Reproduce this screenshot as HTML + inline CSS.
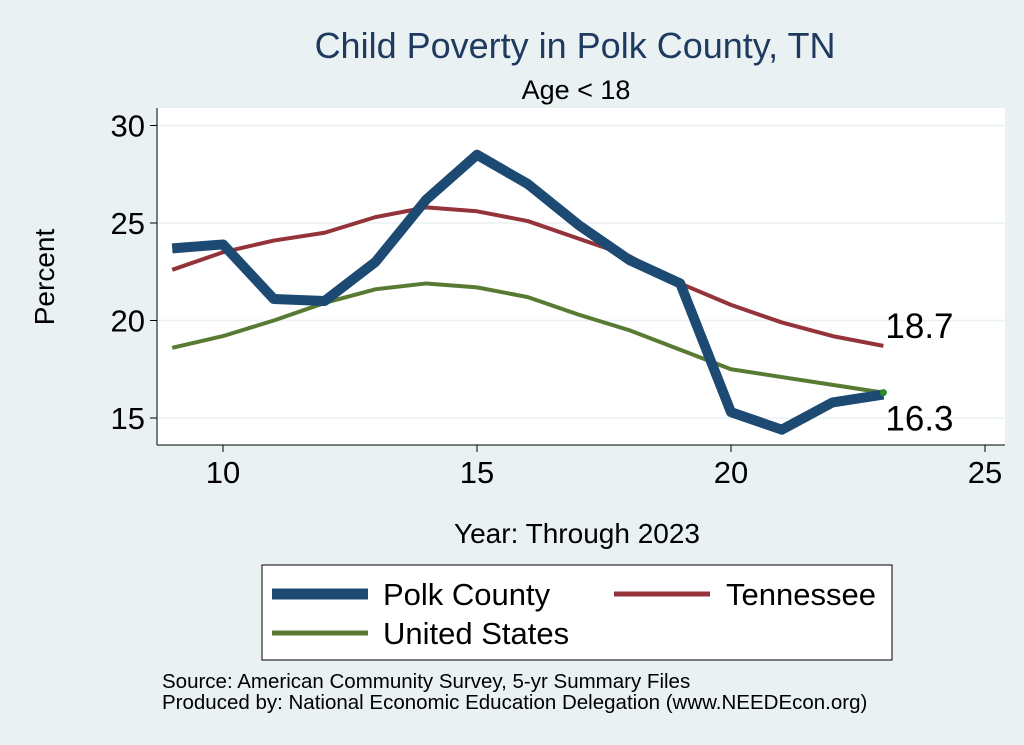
<!DOCTYPE html>
<html><head><meta charset="utf-8"><style>
body{margin:0;background:#eaf1f3;}
svg{display:block;font-family:"Liberation Sans",Arial,sans-serif;}
</style></head><body>
<svg width="1024" height="745" viewBox="0 0 1024 745">
<rect x="0" y="0" width="1024" height="745" fill="#eaf1f3"/>
<text x="575" y="58" text-anchor="middle" font-size="36" fill="#1e3a5f">Child Poverty in Polk County, TN</text>
<text x="576" y="99" text-anchor="middle" font-size="27" fill="#000">Age &lt; 18</text>
<rect x="157" y="108" width="848" height="337" fill="#fff"/>
<g id="grid"></g>
<line x1="157" y1="108" x2="157" y2="445" stroke="#000" stroke-width="1"/>
<line x1="157" y1="445" x2="1005" y2="445" stroke="#000" stroke-width="1"/>
<g id="yticks"></g>
<g id="xticks"></g>
<text transform="translate(54,277) rotate(-90)" text-anchor="middle" font-size="28">Percent</text>
<text x="577" y="543" text-anchor="middle" font-size="28">Year: Through 2023</text>
<g id="series"></g>
<g>
<rect x="262" y="565" width="630" height="95" fill="#fff" stroke="#000" stroke-width="1"/>
<line x1="272" y1="594" x2="368" y2="594" stroke="#1c4a72" stroke-width="11"/>
<text x="383" y="605" font-size="31">Polk County</text>
<line x1="614" y1="594" x2="710" y2="594" stroke="#94343a" stroke-width="5"/>
<text x="726" y="605" font-size="31">Tennessee</text>
<line x1="272" y1="633" x2="368" y2="633" stroke="#587a32" stroke-width="5"/>
<text x="383" y="644" font-size="31">United States</text>
</g>
<text x="162" y="688" font-size="20.5">Source: American Community Survey, 5-yr Summary Files</text>
<text x="162" y="709" font-size="20.5">Produced by: National Economic Education Delegation (www.NEEDEcon.org)</text>
</svg>
<script>
const years=[9,10,11,12,13,14,15,16,17,18,19,20,21,22,23];
const polk=[23.7,23.9,21.1,21.0,23.0,26.2,28.5,27.0,24.9,23.1,21.9,15.3,14.4,15.8,16.2];
const tennessee=[22.6,23.5,24.1,24.5,25.3,25.8,25.6,25.1,24.2,23.3,21.9,20.8,19.9,19.2,18.7];
const us=[18.6,19.2,20.0,20.9,21.6,21.9,21.7,21.2,20.3,19.5,18.5,17.5,17.1,16.7,16.3];
const xTicks=[10,15,20,25];
const yTicks=[15,20,25,30];
const endLabels=["18.7","16.3"];
const NS="http://www.w3.org/2000/svg";
function sx(v){return 223+(v-10)*50.8;}
function sy(v){return 418-(v-15)*19.5;}
function mk(t,a,p){const e=document.createElementNS(NS,t);for(const k in a)e.setAttribute(k,a[k]);p.appendChild(e);return e;}
const grid=document.getElementById('grid'),yt=document.getElementById('yticks'),xt=document.getElementById('xticks'),sg=document.getElementById('series');
yTicks.forEach(v=>{
 const g=mk('line',{x1:158,x2:1005,y1:sy(v),y2:sy(v),stroke:'#eaf1f3','stroke-width':1.5},grid);
 
 
 const t=mk('line',{x1:150,x2:157,y1:sy(v),y2:sy(v),stroke:'#000'},yt);
 
 
 const l=mk('text',{x:145,y:sy(v)+11,'text-anchor':'end','font-size':31},yt);l.textContent=v;
 
 
});
xTicks.forEach(v=>{
 const t=mk('line',{x1:sx(v),x2:sx(v),y1:445,y2:452,stroke:'#000'},xt);
 
 
 const l=mk('text',{x:sx(v),y:483,'text-anchor':'middle','font-size':31},xt);l.textContent=v;
 
 
});
function line(data,color,w,name){
 const p=mk('polyline',{points:data.map((v,i)=>sx(years[i])+','+sy(v)).join(' '),fill:'none',stroke:color,'stroke-width':w,'stroke-linejoin':'round'},sg);
 
 
}
line(us,'#587a32',4,'line-united-states');
line(tennessee,'#94343a',4,'line-tennessee');
line(polk,'#1c4a72',10,'line-polk-county');
const n=years.length-1;
const d=mk('circle',{cx:sx(years[n]),cy:sy(us[n]),r:3.5,fill:'#2a8a2a'},sg);


const l1=mk('text',{x:sx(years[n])+2,y:sy(tennessee[n])-8,'font-size':35},sg);l1.textContent=endLabels[0];


const l2=mk('text',{x:sx(years[n])+2,y:sy(us[n])+38,'font-size':35},sg);l2.textContent=endLabels[1];


</script>
</body></html>
